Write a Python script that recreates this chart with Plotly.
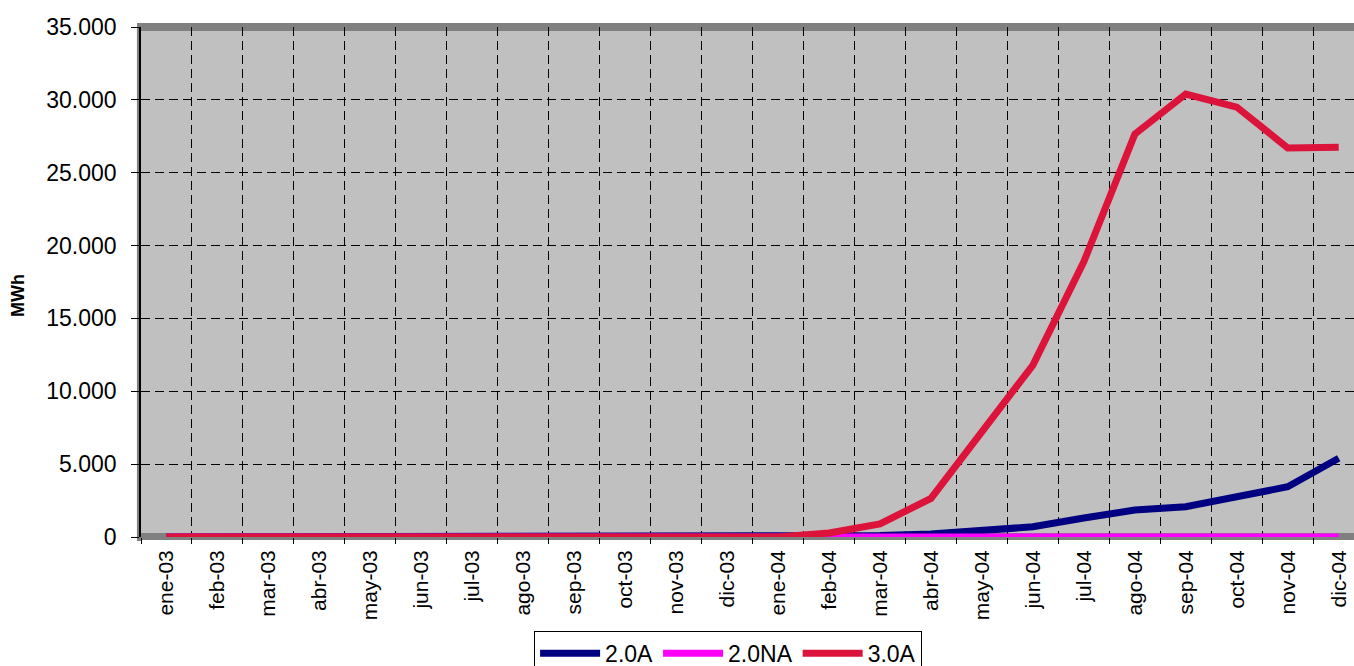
import plotly.graph_objects as go

months = ["ene-03", "feb-03", "mar-03", "abr-03", "may-03", "jun-03",
          "jul-03", "ago-03", "sep-03", "oct-03", "nov-03", "dic-03",
          "ene-04", "feb-04", "mar-04", "abr-04", "may-04", "jun-04",
          "jul-04", "ago-04", "sep-04", "oct-04", "nov-04", "dic-04"]

# MWh per month
a20 = [0, 0, 0, 0, 0, 0, 0, 0, 0, 0, 0, 0,
       0, 30, 100, 200, 400, 700, 1300, 1850, 2080, 2800, 3450, 5400]
na20 = [0] * 24
a30 = [0, 0, 0, 0, 0, 0, 0, 0, 0, 0, 0, 0,
       0, 280, 900, 2650, 7300, 11800, 18900, 27650, 30400, 29500, 26700, 26750]

series = [("2.0A", a20, "#000080"), ("2.0NA", na20, "#FF00FF"), ("3.0A", a30, "#DC143C")]

fig = go.Figure()
for name, vals, col in series:
    fig.add_trace(go.Scatter(
        x=months, y=vals, name=name, mode="lines",
        line=dict(color=col, width=7),
        hoverinfo="none"
    ))

font = "Liberation Sans, Arial, sans-serif"

fig.update_layout(
    width=1354, height=666,
    margin=dict(l=141, r=0, t=27, b=129, autoexpand=False),
    paper_bgcolor="white",
    plot_bgcolor="#C0C0C0",
    separators=",.",
    font=dict(family=font, color="black"),
    showlegend=True,
    legend=dict(
        orientation="h", x=0.484, xanchor="center", y=-0.184, yanchor="top",
        bordercolor="black", borderwidth=1, bgcolor="white",
        font=dict(size=23, family=font), itemwidth=60,
        tracegroupgap=0
    ),
)

fig.update_xaxes(
    type="category", range=[-0.5, 23.3], automargin=False,
    tickson="boundaries", ticks="outside", ticklen=6, tickcolor="black",
    ticklabelstandoff=8,
    tickangle=-90, tickfont=dict(size=21),
    showgrid=True, gridcolor="black", gridwidth=1, griddash="9px,5px",
    showline=False, zeroline=False
)
fig.update_yaxes(
    range=[0, 35000], dtick=5000, tickformat=",", automargin=False,
    ticks="outside", ticklen=8, tickcolor="black", ticklabelstandoff=10,
    tickfont=dict(size=23),
    showgrid=True, gridcolor="black", gridwidth=1, griddash="9px,5px",
    showline=True, linecolor="black", linewidth=1.5, zeroline=False
)

# gray frame on top, left and bottom of the plot area
grey = "#808080"
fig.add_shape(type="line", xref="paper", yref="paper", x0=-0.0033, x1=1, y0=1.0, y1=1.0,
              line=dict(color=grey, width=8), layer="below")
fig.add_shape(type="line", xref="paper", yref="paper", x0=-0.0017, x1=-0.0017, y0=-0.008, y1=1.0,
              line=dict(color=grey, width=4), layer="below")
fig.add_shape(type="line", xref="paper", yref="paper", x0=0, x1=1, y0=0.001, y1=0.001,
              line=dict(color=grey, width=7), layer="below")

fig.add_annotation(
    text="<b>MWh</b>", xref="paper", yref="paper",
    x=-0.1014, y=0.4725, xanchor="center", yanchor="middle",
    textangle=-90, showarrow=False, font=dict(size=18, family=font)
)

fig.write_html("out.html", config={"displayModeBar": False},
               post_script="document.body.style.margin='0';")
